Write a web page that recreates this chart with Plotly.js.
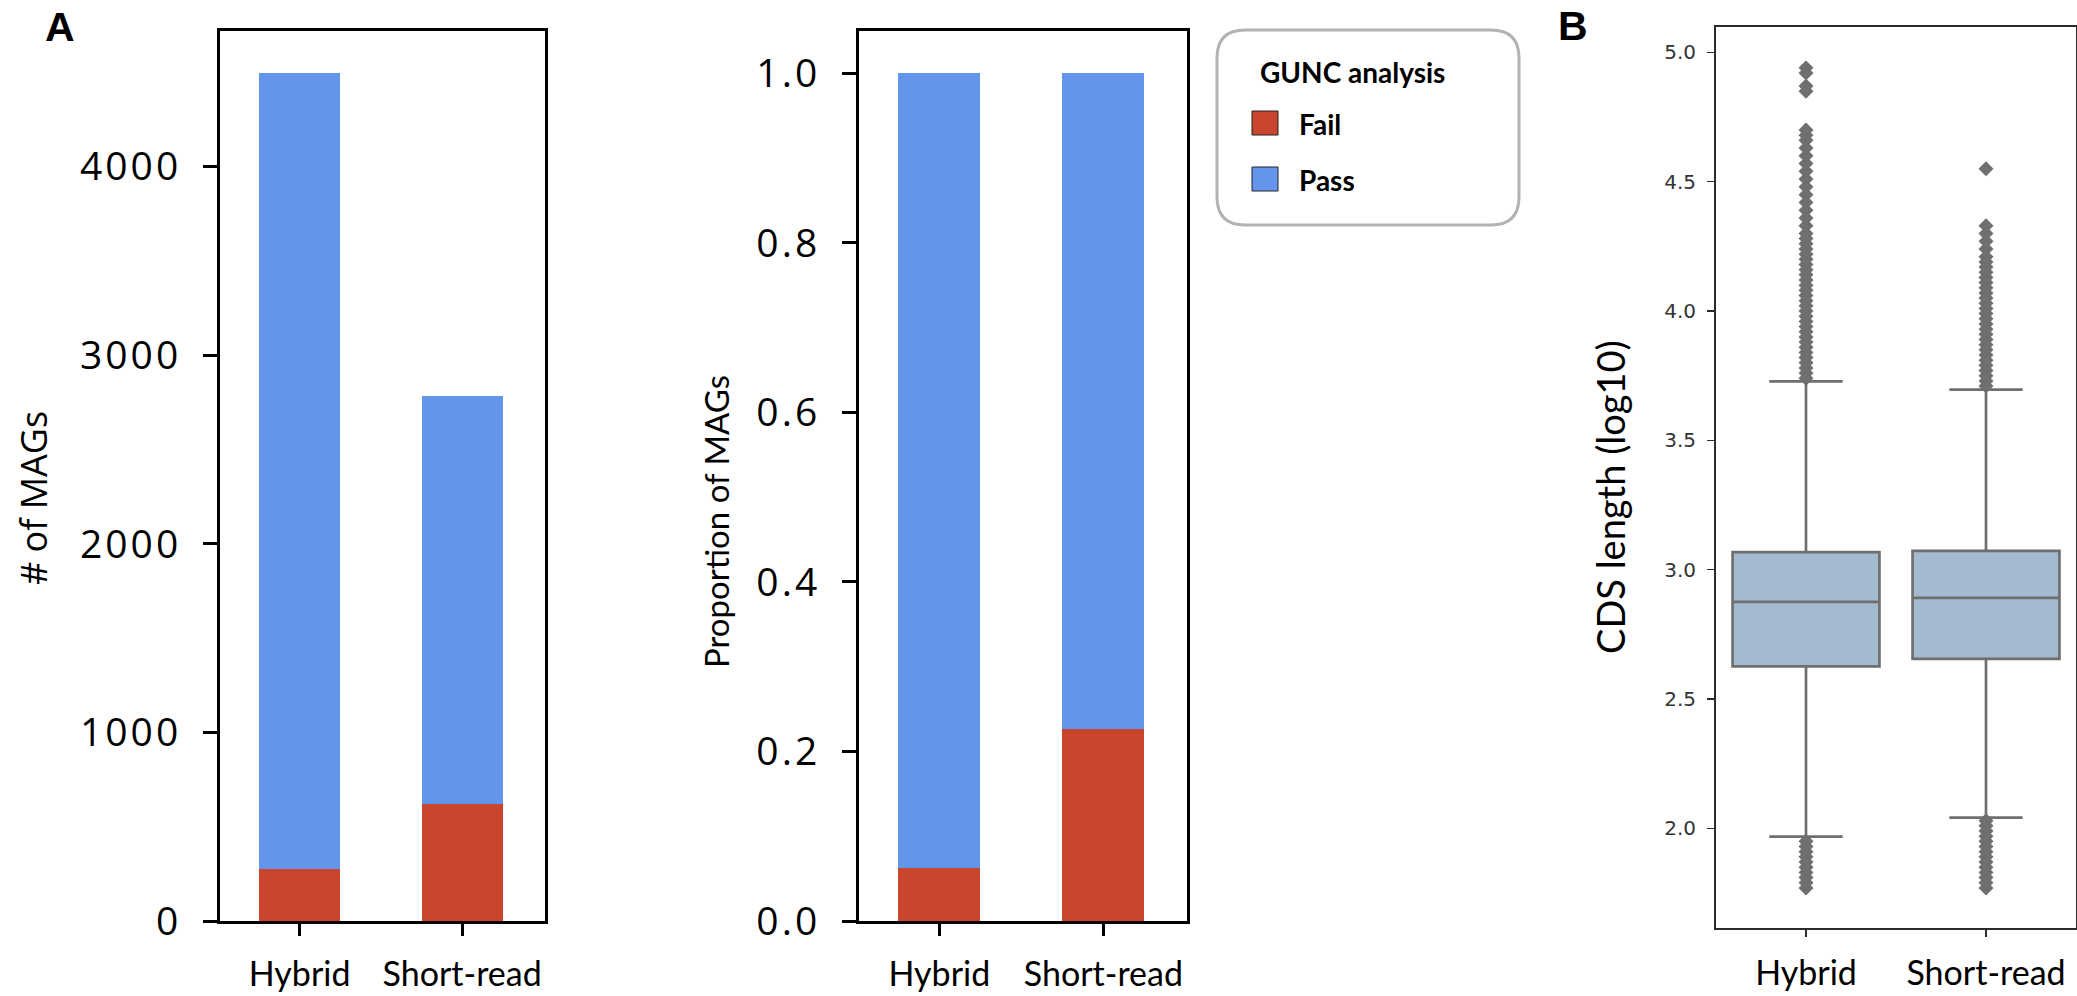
<!DOCTYPE html>
<html>
<head>
<meta charset="utf-8">
<script src="https://cdn.plot.ly/plotly-3.0.1.min.js"></script>
<style>
  html, body { margin: 0; padding: 0; background: #ffffff; }
  #chart { width: 2077px; height: 996px; }
  #chart .ytick text, #chart .y2tick text { letter-spacing: 3px; }
</style>
</head>
<body>
<div id="chart"></div>
<script>
// ---------- data ----------
const categories = ["Hybrid", "Short-read"];

// Panel A (left): number of MAGs
const failCounts = [275, 622];
const passCounts = [4220, 2161];

// Panel A (middle): proportion of MAGs
const failProp = [0.062, 0.226];
const passProp = [0.938, 0.774];

// Panel B: CDS length (log10) box statistics
const boxQ1 = [2.626, 2.655];
const boxMedian = [2.876, 2.891];
const boxQ3 = [3.068, 3.073];
const boxLowerFence = [1.968, 2.042];
const boxUpperFence = [3.728, 3.696];

// Panel B: outliers (dense bands of points)
const hybridOutliers = [
  1.77, 1.79, 1.81, 1.83, 1.85, 1.87, 1.89, 1.91, 1.93, 1.95,
  3.74, 3.76, 3.78, 3.80, 3.82, 3.84, 3.86, 3.88, 3.90, 3.92, 3.94, 3.96, 3.98,
  4.00, 4.02, 4.04, 4.06, 4.08, 4.10, 4.12, 4.14, 4.16, 4.18, 4.20, 4.22, 4.24,
  4.26, 4.28, 4.30, 4.33, 4.36, 4.39, 4.42, 4.45, 4.48, 4.51, 4.54, 4.57, 4.60,
  4.63, 4.66, 4.68, 4.70, 4.85, 4.87, 4.92, 4.94
];
const shortOutliers = [
  1.77, 1.79, 1.81, 1.83, 1.85, 1.87, 1.89, 1.91, 1.93, 1.95, 1.97, 1.99, 2.01, 2.03,
  3.71, 3.73, 3.75, 3.77, 3.79, 3.81, 3.83, 3.85, 3.87, 3.89, 3.91, 3.93, 3.95,
  3.97, 3.99, 4.01, 4.03, 4.05, 4.07, 4.09, 4.11, 4.13, 4.15, 4.17, 4.19, 4.21,
  4.24, 4.27, 4.30, 4.33, 4.55
];

// Tick values
const countTicks = [0, 1000, 2000, 3000, 4000];
const propTicks = [0, 0.2, 0.4, 0.6, 0.8, 1.0];
const cdsTicks = [2.0, 2.5, 3.0, 3.5, 4.0, 4.5, 5.0];

// ---------- styling ----------
const W = 2077, H = 996;
const RED = "#c9452f";
const BLUE = "#6495ed";
const GRAY = "#6f6f6f";
const BOXFILL = "#a4bad0";
const px = v => v / W;          // x pixel -> paper
const py = v => 1 - v / H;      // y pixel -> paper

const traces = [
  { type: "bar", name: "Fail", x: categories, y: failCounts, xaxis: "x", yaxis: "y",
    marker: { color: RED }, showlegend: false },
  { type: "bar", name: "Pass", x: categories, y: passCounts, xaxis: "x", yaxis: "y",
    marker: { color: BLUE }, showlegend: false },
  { type: "bar", name: "Fail", x: categories, y: failProp, xaxis: "x2", yaxis: "y2",
    marker: { color: RED }, showlegend: false },
  { type: "bar", name: "Pass", x: categories, y: passProp, xaxis: "x2", yaxis: "y2",
    marker: { color: BLUE }, showlegend: false },
  { type: "box", name: "CDS length", x: categories, xaxis: "x3", yaxis: "y3",
    q1: boxQ1, median: boxMedian, q3: boxQ3,
    lowerfence: boxLowerFence, upperfence: boxUpperFence,
    boxpoints: false, width: 0.816, whiskerwidth: 0.5,
    fillcolor: BOXFILL, line: { color: GRAY, width: 2.7 }, showlegend: false },
  { type: "scatter", mode: "markers", name: "Hybrid outliers",
    x: hybridOutliers.map(() => categories[0]), y: hybridOutliers, xaxis: "x3", yaxis: "y3",
    marker: { symbol: "diamond", size: 11.5, color: GRAY, line: { width: 0 } }, showlegend: false },
  { type: "scatter", mode: "markers", name: "Short-read outliers",
    x: shortOutliers.map(() => categories[1]), y: shortOutliers, xaxis: "x3", yaxis: "y3",
    marker: { symbol: "diamond", size: 11.5, color: GRAY, line: { width: 0 } }, showlegend: false }
];

const axA = {
  showline: true, mirror: true, linecolor: "#000000", linewidth: 3,
  ticks: "outside", tickcolor: "#000000", tickwidth: 3,
  showgrid: false, zeroline: false, fixedrange: true
};

const layout = {
  width: W, height: H,
  margin: { l: 0, r: 0, t: 0, b: 0, pad: 0 },
  paper_bgcolor: "#ffffff", plot_bgcolor: "#ffffff",
  barmode: "stack", bargap: 0.5,
  showlegend: false,
  xaxis: Object.assign({}, axA, {
    domain: [px(220), px(545)], anchor: "y", type: "category",
    range: [-0.49, 1.51], ticklen: 12, ticklabelstandoff: 9,
    tickfont: { family: "Lato", size: 34, color: "#000000" }
  }),
  yaxis: Object.assign({}, axA, {
    domain: [py(921), py(31)], anchor: "x", range: [0, 4720],
    tickvals: countTicks, ticktext: countTicks.map(String), ticklen: 14, ticklabelstandoff: 14,
    tickfont: { family: "Open Sans", size: 39, color: "#000000" }
  }),
  xaxis2: Object.assign({}, axA, {
    domain: [px(859), px(1187)], anchor: "y2", type: "category",
    range: [-0.49, 1.51], ticklen: 12, ticklabelstandoff: 9,
    tickfont: { family: "Lato", size: 34, color: "#000000" }
  }),
  yaxis2: Object.assign({}, axA, {
    domain: [py(921), py(31)], anchor: "x2", range: [0, 1.05],
    tickvals: propTicks, tickformat: ".1f", ticklen: 14, ticklabelstandoff: 14,
    tickfont: { family: "Open Sans", size: 39, color: "#000000" }
  }),
  xaxis3: {
    domain: [px(1716), px(2076)], anchor: "y3", type: "category",
    range: [-0.5, 1.5], showline: true, mirror: true, linecolor: "#2b2b2b", linewidth: 2,
    ticks: "outside", ticklen: 7, tickwidth: 1.5, tickcolor: "#2b2b2b",
    ticklabelstandoff: 7,
    tickfont: { family: "Lato", size: 34, color: "#000000" },
    showgrid: false, zeroline: false, fixedrange: true
  },
  yaxis3: {
    domain: [py(928), py(27)], anchor: "x3", range: [1.615, 5.098],
    tickvals: cdsTicks, tickformat: ".1f", showline: true, mirror: true,
    linecolor: "#2b2b2b", linewidth: 2,
    ticks: "outside", ticklen: 7, tickwidth: 1.5, tickcolor: "#2b2b2b",
    ticklabelstandoff: 7,
    tickfont: { family: "DejaVu Sans", size: 20, color: "#333333" },
    showgrid: false, zeroline: false, fixedrange: true
  },
  shapes: [
    // legend frame (rounded)
    { type: "path", xref: "paper", yref: "paper",
      path: (function () {
        const x0 = px(1217), x1 = px(1519), y0 = py(225), y1 = py(30);
        const rx = 28 / W, ry = 28 / H;
        return "M" + (x0 + rx) + "," + y1 +
          " L" + (x1 - rx) + "," + y1 +
          " Q" + x1 + "," + y1 + " " + x1 + "," + (y1 - ry) +
          " L" + x1 + "," + (y0 + ry) +
          " Q" + x1 + "," + y0 + " " + (x1 - rx) + "," + y0 +
          " L" + (x0 + rx) + "," + y0 +
          " Q" + x0 + "," + y0 + " " + x0 + "," + (y0 + ry) +
          " L" + x0 + "," + (y1 - ry) +
          " Q" + x0 + "," + y1 + " " + (x0 + rx) + "," + y1 + " Z";
      })(),
      line: { color: "#b3b3b3", width: 3 }, fillcolor: "rgba(255,255,255,0)" },
    // legend swatches
    { type: "rect", xref: "paper", yref: "paper",
      x0: px(1252), x1: px(1278), y0: py(135), y1: py(111),
      fillcolor: RED, line: { color: "#222222", width: 1 } },
    { type: "rect", xref: "paper", yref: "paper",
      x0: px(1252), x1: px(1278), y0: py(191), y1: py(167),
      fillcolor: BLUE, line: { color: "#222222", width: 1 } }
  ],
  annotations: [
    { text: "<b>A</b>", xref: "paper", yref: "paper", x: px(60), y: py(27),
      xanchor: "center", yanchor: "middle", showarrow: false,
      font: { family: "Liberation Sans", size: 41, color: "#000000" } },
    { text: "<b>B</b>", xref: "paper", yref: "paper", x: px(1573), y: py(26),
      xanchor: "center", yanchor: "middle", showarrow: false,
      font: { family: "Liberation Sans", size: 41, color: "#000000" } },
    { text: "# of MAGs", xref: "paper", yref: "paper", x: px(33), y: py(498),
      xanchor: "center", yanchor: "middle", textangle: -90, showarrow: false,
      font: { family: "Open Sans", size: 36, color: "#000000" } },
    { text: "Proportion of MAGs", xref: "paper", yref: "paper", x: px(716), y: py(522),
      xanchor: "center", yanchor: "middle", textangle: -90, showarrow: false,
      font: { family: "Lato", size: 33, color: "#000000" } },
    { text: "CDS length (log10)", xref: "paper", yref: "paper", x: px(1610), y: py(497),
      xanchor: "center", yanchor: "middle", textangle: -90, showarrow: false,
      font: { family: "Lato", size: 38, color: "#000000" } },
    { text: "<b>GUNC analysis</b>", xref: "paper", yref: "paper", x: px(1258), y: py(72),
      xanchor: "left", yanchor: "middle", showarrow: false,
      font: { family: "Lato", size: 28, color: "#000000" } },
    { text: "<b>Fail</b>", xref: "paper", yref: "paper", x: px(1297), y: py(124),
      xanchor: "left", yanchor: "middle", showarrow: false,
      font: { family: "Lato", size: 28, color: "#000000" } },
    { text: "<b>Pass</b>", xref: "paper", yref: "paper", x: px(1297), y: py(180),
      xanchor: "left", yanchor: "middle", showarrow: false,
      font: { family: "Lato", size: 28, color: "#000000" } }
  ]
};

Plotly.newPlot("chart", traces, layout, { displayModeBar: false, staticPlot: true });
</script>
</body>
</html>
